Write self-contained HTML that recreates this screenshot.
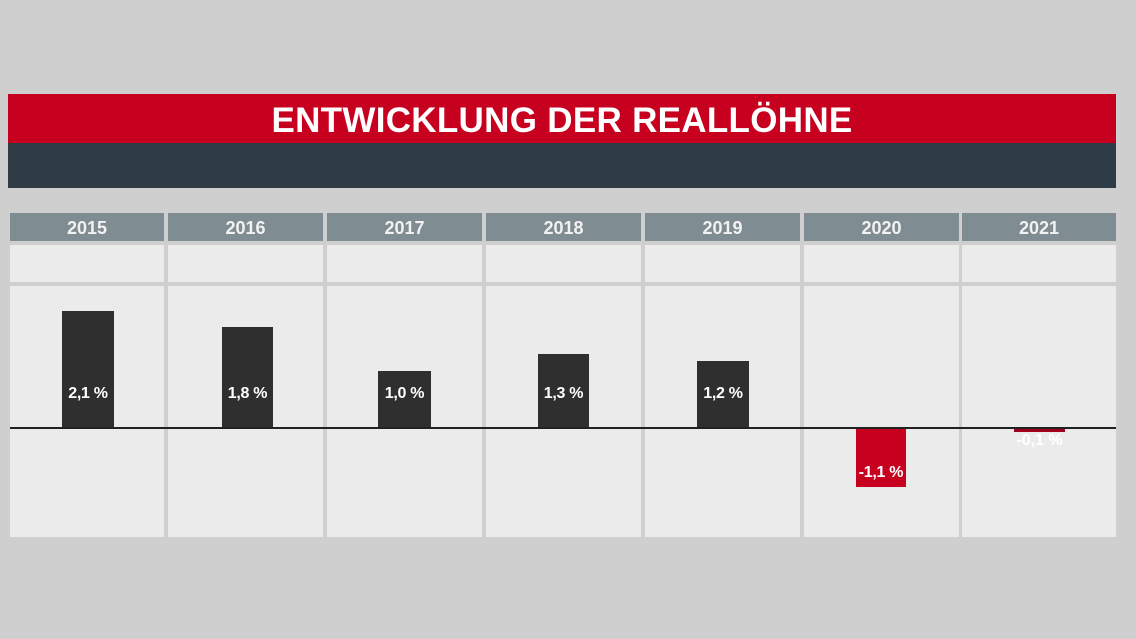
<!DOCTYPE html>
<html><head><style>
body{margin:0;width:1136px;height:639px;background:#cfcfcf;position:relative;overflow:hidden;font-family:"Liberation Sans",sans-serif}
div{position:absolute;box-sizing:border-box}
.red{left:8px;top:94px;width:1108px;height:49px;background:#c8001f;color:#fff;font-weight:bold;font-size:35px;text-align:center;line-height:54px;letter-spacing:0.3px}
.dark{left:8px;top:143px;width:1108px;height:45px;background:#2e3a44}
.hd{top:213px;height:28px;background:#7f8c92;color:#f2f2f2;font-weight:bold;font-size:18px;text-align:center;line-height:30px}
.c1{top:245px;height:37px;background:#ebebeb}
.c2{top:286px;height:251px;background:#ebebeb}
.bar{background:#2f2f2f;color:#fff;font-weight:bold;font-size:16px;text-align:center;letter-spacing:-0.3px}
.zl{left:10px;top:427px;width:1106px;height:2px;background:#222}
</style></head><body>
<div class="red">ENTWICKLUNG DER REALLÖHNE</div>
<div class="dark"></div>

<div class="hd" style="left:10px;width:154px">2015</div>
<div class="hd" style="left:168px;width:155px">2016</div>
<div class="hd" style="left:327px;width:155px">2017</div>
<div class="hd" style="left:486px;width:155px">2018</div>
<div class="hd" style="left:645px;width:155px">2019</div>
<div class="hd" style="left:804px;width:155px">2020</div>
<div class="hd" style="left:962px;width:154px">2021</div>

<div class="c1" style="left:10px;width:154px"></div>
<div class="c1" style="left:168px;width:155px"></div>
<div class="c1" style="left:327px;width:155px"></div>
<div class="c1" style="left:486px;width:155px"></div>
<div class="c1" style="left:645px;width:155px"></div>
<div class="c1" style="left:804px;width:155px"></div>
<div class="c1" style="left:962px;width:154px"></div>

<div class="c2" style="left:10px;width:154px"></div>
<div class="c2" style="left:168px;width:155px"></div>
<div class="c2" style="left:327px;width:155px"></div>
<div class="c2" style="left:486px;width:155px"></div>
<div class="c2" style="left:645px;width:155px"></div>
<div class="c2" style="left:804px;width:155px"></div>
<div class="c2" style="left:962px;width:154px"></div>

<div class="bar" style="left:62px;top:311px;width:52px;height:117px;padding-top:74px">2,1 %</div>
<div class="bar" style="left:222px;top:327px;width:51px;height:101px;padding-top:58px">1,8 %</div>
<div class="bar" style="left:378px;top:371px;width:53px;height:57px;padding-top:14px">1,0 %</div>
<div class="bar" style="left:538px;top:354px;width:51px;height:74px;padding-top:31px">1,3 %</div>
<div class="bar" style="left:697px;top:361px;width:52px;height:67px;padding-top:24px">1,2 %</div>
<div class="bar" style="left:856px;top:428px;width:50px;height:59px;background:#c8001f;padding-top:36px">-1,1 %</div>
<div style="left:1014px;top:428px;width:51px;height:4px;background:#a0001c"></div>
<div style="left:1000px;top:432px;width:79px;color:#fff;font-weight:bold;font-size:16px;text-align:center">-0,1 %</div>
<div class="zl"></div>
</body></html>
